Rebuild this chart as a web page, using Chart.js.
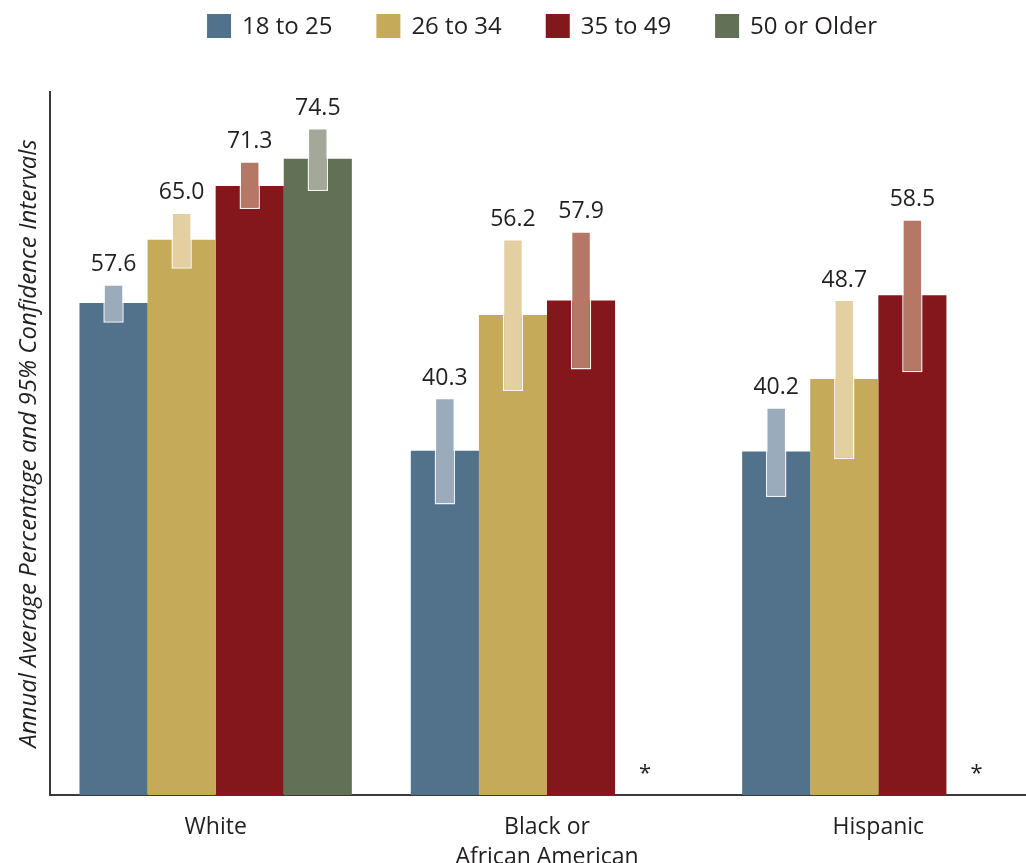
<!DOCTYPE html>
<html>
<head>
<meta charset="utf-8">
<script src="https://cdn.jsdelivr.net/npm/chart.js@4.4.1/dist/chart.umd.min.js"></script>
<style>
  html, body { margin: 0; padding: 0; background: #fff; overflow: hidden; }
  #wrap { width: 1050px; height: 863px; }
</style>
</head>
<body>
<div id="wrap"><canvas id="ageChart" width="1050" height="863"></canvas></div>
<script>
// categories (x axis) and age groups (series)
const raceGroups = [["White"], ["Black or", "African American"], ["Hispanic"]];
const ageGroups = ["18 to 25", "26 to 34", "35 to 49", "50 or Older"];

// annual average percentages
const age18to25 = [57.6, 40.3, 40.2];
const age26to34 = [65.0, 56.2, 48.7];
const age35to49 = [71.3, 57.9, 58.5];
const age50plus = [74.5, null, null];

// 95% confidence intervals [low, high]
const ci18to25 = [[55.3, 59.8], [34.0, 46.5], [34.9, 45.4]];
const ci26to34 = [[61.6, 68.2], [47.3, 65.1], [39.3, 58.0]];
const ci35to49 = [[68.6, 74.2], [49.8, 66.0], [49.5, 67.4]];
const ci50plus = [[70.7, 78.1], null, null];

const barColors = ["#52728b", "#c5aa5a", "#84171b", "#627155"];
const ciColors = ["#9aabbc", "#e3cfa1", "#b57867", "#a3a899"];

const textColor = "#231f20";
const fontFamily = "'Open Sans', 'Noto Sans', sans-serif";

const seriesValues = [age18to25, age26to34, age35to49, age50plus];
const seriesCI = [ci18to25, ci26to34, ci35to49, ci50plus];

const datasets = [];
seriesValues.forEach((vals, i) => {
  datasets.push({
    label: ageGroups[i],
    data: vals,
    backgroundColor: barColors[i],
    borderWidth: 0,
    stack: "g" + i,
    order: 1,
    barPercentage: 1.0,
    categoryPercentage: 0.822,
  });
});
seriesCI.forEach((vals, i) => {
  datasets.push({
    label: "CI " + ageGroups[i],
    data: vals,
    backgroundColor: ciColors[i],
    borderColor: "rgba(255, 255, 255, 0.92)",
    borderWidth: 1.5,
    borderSkipped: false,
    stack: "g" + i,
    order: 0,
    barPercentage: 0.3,
    categoryPercentage: 0.822,
  });
});

// value labels, asterisks for missing groups, and legend
const annotatePlugin = {
  id: "annotate",
  afterDraw(chart) {
    const ctx = chart.ctx;
    const yScale = chart.scales.y;
    ctx.save();
    ctx.fillStyle = textColor;
    ctx.textAlign = "center";

    // value labels above the confidence bars
    seriesValues.forEach((vals, i) => {
      const meta = chart.getDatasetMeta(i);
      vals.forEach((v, j) => {
        const bar = meta.data[j];
        if (v === null) {
          // no estimate for this group
          ctx.font = "22px " + fontFamily;
          ctx.textBaseline = "middle";
          ctx.fillText("*", bar.x - 4, yScale.getPixelForValue(0) - 21);
          return;
        }
        const top = seriesCI[i][j] ? seriesCI[i][j][1] : v;
        ctx.font = "23px " + fontFamily;
        ctx.textBaseline = "alphabetic";
        ctx.fillText(v.toFixed(1), bar.x, yScale.getPixelForValue(top) - 13);
      });
    });

    // legend
    ctx.font = "24px " + fontFamily;
    ctx.textAlign = "left";
    ctx.textBaseline = "middle";
    const box = 24, gap = 11, spacing = 44;
    const widths = ageGroups.map((t) => ctx.measureText(t).width);
    const total = widths.reduce((a, w) => a + box + gap + w, 0) + spacing * (ageGroups.length - 1);
    let x = 542 - total / 2;
    ageGroups.forEach((t, i) => {
      ctx.fillStyle = barColors[i];
      ctx.fillRect(x, 14, box, box);
      ctx.fillStyle = textColor;
      ctx.fillText(t, x + box + gap, 27);
      x += box + gap + widths[i] + spacing;
    });
    ctx.restore();
  },
};

new Chart(document.getElementById("ageChart"), {
  type: "bar",
  data: {
    labels: raceGroups,
    datasets: datasets,
  },
  options: {
    responsive: false,
    animation: false,
    layout: {
      padding: { top: 92, right: 6, left: 0, bottom: 0 },
    },
    plugins: {
      legend: { display: false },
      tooltip: { enabled: false },
    },
    scales: {
      x: {
        grid: { display: false },
        border: { display: true, color: "#3a3a3a", width: 2 },
        ticks: {
          color: textColor,
          padding: 10,
          font: { family: fontFamily, size: 23, lineHeight: 1.28 },
        },
        afterFit: function (scale) {
          scale.height = 68;
        },
      },
      y: {
        stacked: false,
        min: 0,
        max: 82.3,
        grid: { display: false },
        border: { display: true, color: "#3a3a3a", width: 2 },
        ticks: { display: false },
        title: {
          display: true,
          text: "Annual Average Percentage and 95% Confidence Intervals",
          color: textColor,
          padding: { top: 15, bottom: 0 },
          font: { family: fontFamily, size: 24, style: "italic" },
        },
        afterFit: function (scale) {
          scale.width = 50;
        },
      },
    },
  },
  plugins: [annotatePlugin],
});
</script>
</body>
</html>
